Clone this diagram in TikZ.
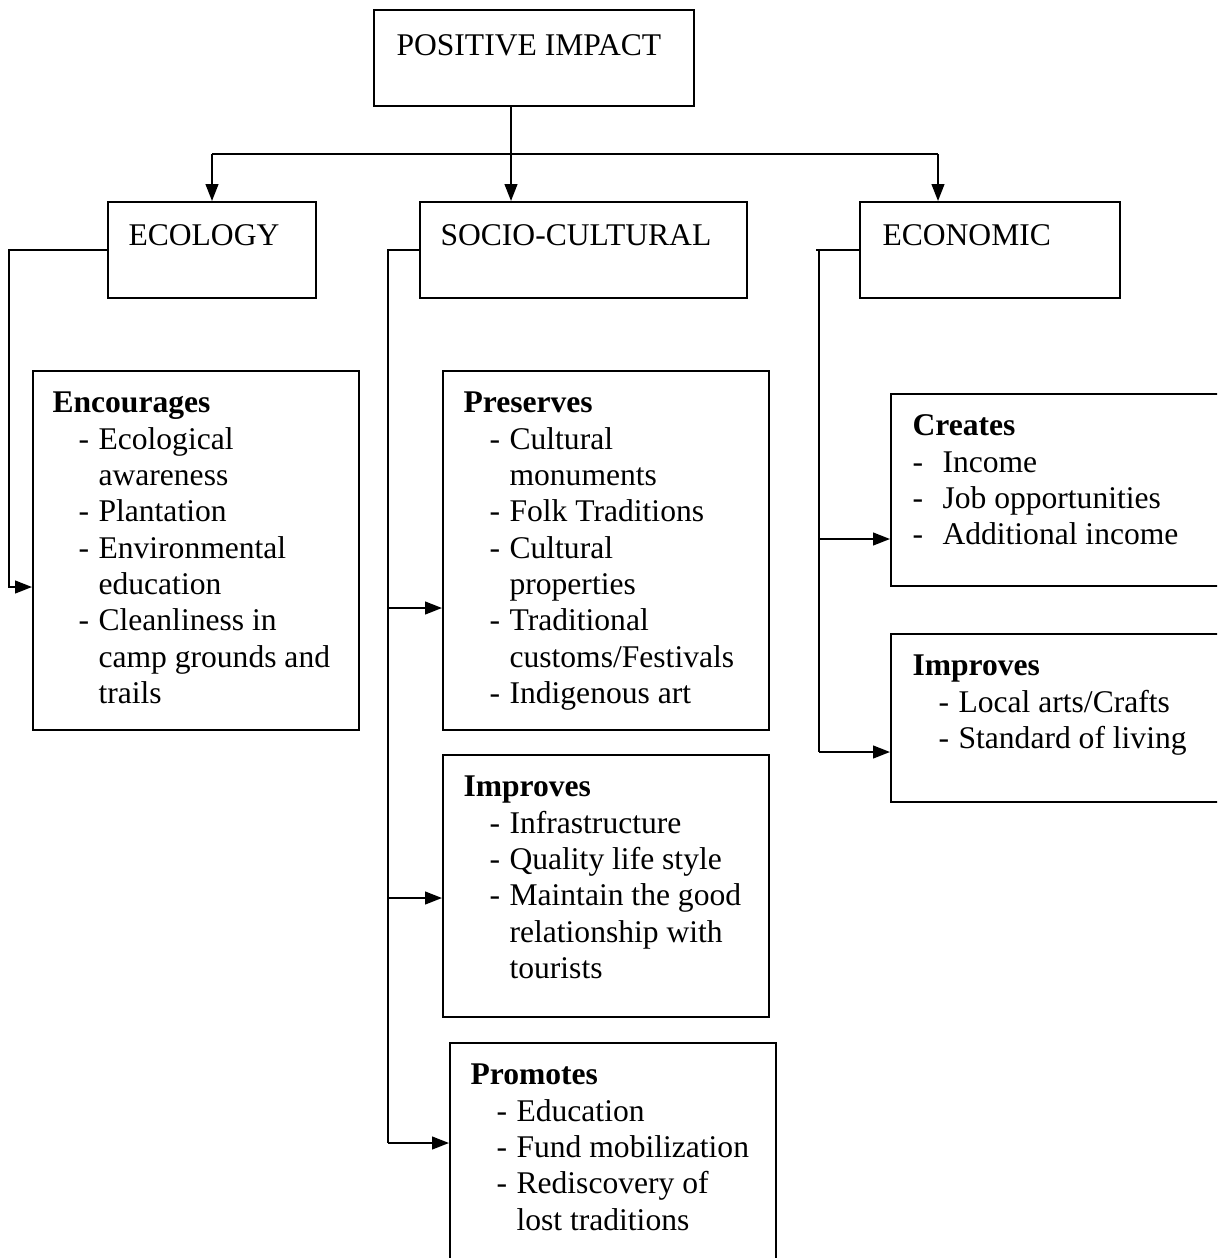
\documentclass[tikz,border=0pt]{standalone}
\usepackage{fontspec}
\setmainfont{Liberation Serif}
\usetikzlibrary{arrows.meta,fit}
\newcommand{\dashline}[1]{\hspace*{9.9pt}\makebox[7.6pt][l]{-}#1}
\newcommand{\wrapline}[1]{\hspace*{17.5pt}#1}
\newcommand{\flatline}[1]{\makebox[11.4pt][l]{-}#1}
\begin{document}
\begin{tikzpicture}[
  x=0.38pt, y=-0.38pt,
  box/.style={draw, line width=0.75pt, inner sep=0pt},
  txt/.style={anchor=north west, align=left, inner sep=0pt, font=\fontsize{12}{13.8}\selectfont},
  arrow/.style={-{Triangle[length=6.4pt,width=4.8pt]}, line width=0.75pt}
]
  \useasboundingbox (0,0) rectangle (1217,1258);
  \clip (0,0) rectangle (1217,1258);

  \node[box, fit={(374,10) (694,106)}]    (impact)   {};
  \node[box, fit={(108,202) (316,298)}]   (ecology)  {};
  \node[box, fit={(420,202) (747,298)}]   (socio)    {};
  \node[box, fit={(860,202) (1120,298)}]  (economic) {};
  \node[box, fit={(33,371) (359,730)}]    (encourages) {};
  \node[box, fit={(443,371) (769,730)}]   (preserves)  {};
  \node[box, fit={(443,755) (769,1017)}]  (improvesA)  {};
  \node[box, fit={(450,1043) (776,1275)}] (promotes)   {};
  \node[box, fit={(891,394) (1235,586)}]  (creates)    {};
  \node[box, fit={(891,634) (1235,802)}]  (improvesB)  {};

  \node[txt] (impacttxt)   at (396,30)  {\strut POSITIVE IMPACT};
  \node[txt] (ecologytxt)  at (128,220) {\strut ECOLOGY};
  \node[txt] (sociotxt)    at (440,220) {\strut SOCIO-CULTURAL};
  \node[txt] (economictxt) at (882,220) {\strut ECONOMIC};

  \node[txt] (encouragestxt) at (52,387) {\strut\textbf{Encourages}\\
    \dashline{Ecological}\\ \wrapline{awareness}\\
    \dashline{Plantation}\\
    \dashline{Environmental}\\ \wrapline{education}\\
    \dashline{Cleanliness in}\\ \wrapline{camp grounds and}\\ \wrapline{trails}};
  \node[txt] (preservestxt) at (463,387) {\strut\textbf{Preserves}\\
    \dashline{Cultural}\\ \wrapline{monuments}\\
    \dashline{Folk Traditions}\\
    \dashline{Cultural}\\ \wrapline{properties}\\
    \dashline{Traditional}\\ \wrapline{customs/Festivals}\\
    \dashline{Indigenous art}};
  \node[txt] (improvesAtxt) at (463,771) {\strut\textbf{Improves}\\
    \dashline{Infrastructure}\\
    \dashline{Quality life style}\\
    \dashline{Maintain the good}\\ \wrapline{relationship with}\\ \wrapline{tourists}};
  \node[txt] (promotestxt) at (470,1059) {\strut\textbf{Promotes}\\
    \dashline{Education}\\
    \dashline{Fund mobilization}\\
    \dashline{Rediscovery of}\\ \wrapline{lost traditions}};
  \node[txt] (createstxt) at (912,410) {\strut\textbf{Creates}\\
    \flatline{Income}\\
    \flatline{Job opportunities}\\
    \flatline{Additional income}};
  \node[txt] (improvesBtxt) at (912,650) {\strut\textbf{Improves}\\
    \dashline{Local arts/Crafts}\\
    \dashline{Standard of living}};

  \coordinate (split) at (511,154);
  \coordinate (left)  at (212,154);
  \coordinate (right) at (938,154);
  \draw[arrow] (impact.south -| split) -- (socio.north -| split);
  \draw[line width=0.75pt] (left) -- (right);
  \draw[arrow] (left) -- (ecology.north -| left);
  \draw[arrow] (right) -- (economic.north -| right);

  \coordinate (ecotop) at (9,250);
  \coordinate (ecobot) at (9,587);
  \draw[arrow] (ecology.west |- ecotop) -- (ecotop) -- (ecobot) -- (encourages.west |- ecobot);

  \coordinate (soctop) at (388,250);
  \coordinate (soc1) at (388,608);
  \coordinate (soc2) at (388,898);
  \coordinate (soc3) at (388,1143);
  \draw[line width=0.75pt] (socio.west |- soctop) -- (soctop) -- (soc3);
  \draw[arrow] (soc1) -- (preserves.west |- soc1);
  \draw[arrow] (soc2) -- (improvesA.west |- soc2);
  \draw[arrow] (soc3) -- (promotes.west |- soc3);

  \coordinate (ectop) at (819,250);
  \coordinate (ec1) at (819,539);
  \coordinate (ec2) at (819,752);
  \draw[line width=0.75pt] (economic.west |- ectop) -- (816,250);
  \draw[line width=0.75pt] (ectop) -- (ec2);
  \draw[arrow] (ec1) -- (creates.west |- ec1);
  \draw[arrow] (ec2) -- (improvesB.west |- ec2);
\end{tikzpicture}
\end{document}
